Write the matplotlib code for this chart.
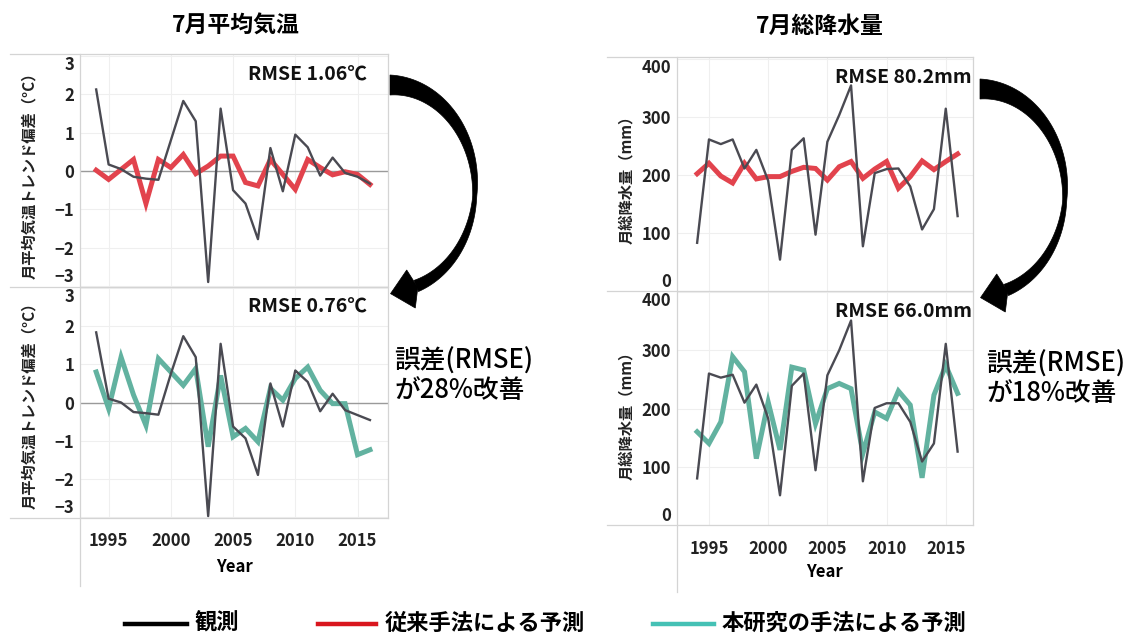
import numpy as np
import matplotlib
matplotlib.use("Agg")
import matplotlib.pyplot as plt
from matplotlib.lines import Line2D
from matplotlib.patches import Polygon

plt.rcParams['font.family'] = ['Noto Sans CJK JP', 'DejaVu Sans']

W, H = 1142, 634

years = list(range(1994, 2017))

# July mean temperature, deviation from trend (degC)
temp_obs_top = [2.13, 0.17, 0.05, -0.15, -0.2, -0.23, 0.8, 1.83, 1.3, -2.9, 1.63, -0.5,
                -0.85, -1.78, 0.6, -0.53, 0.95, 0.62, -0.12, 0.35, -0.05, -0.15, -0.33]
temp_conv = [0.02, -0.22, 0.04, 0.3, -0.85, 0.3, 0.09, 0.43, -0.07, 0.13, 0.39, 0.39,
             -0.3, -0.39, 0.3, -0.09, -0.48, 0.3, 0.09, -0.1, -0.02, -0.09, -0.35]
temp_obs_bottom = [1.84, 0.1, 0.0, -0.25, -0.28, -0.32, 0.75, 1.74, 1.19, -2.98, 1.54, -0.63,
                   -0.94, -1.9, 0.5, -0.63, 0.84, 0.54, -0.23, 0.23, -0.2, -0.33, -0.46]
temp_new = [0.8, -0.16, 1.19, 0.2, -0.6, 1.15, 0.8, 0.45, 0.89, -1.16, 0.71, -0.9,
            -0.68, -1.03, 0.37, 0.06, 0.63, 0.93, 0.32, -0.03, -0.03, -1.37, -1.24]

# July total precipitation (mm)
rain_obs_top = [83, 261, 253, 261, 211, 243, 190, 54, 243, 263, 97, 257,
                303, 354, 77, 203, 210, 211, 180, 106, 141, 314, 129]
rain_conv = [202, 220, 198, 186, 220, 193, 197, 197, 206, 213, 211, 191,
             214, 223, 194, 210, 223, 177, 197, 224, 209, 223, 236]
rain_obs_bottom = [80, 260, 253, 258, 210, 241, 183, 51, 239, 260, 94, 257,
                   300, 351, 75, 201, 209, 209, 177, 109, 140, 311, 126]
rain_new = [160, 140, 177, 289, 263, 114, 211, 129, 271, 266, 174, 234,
            243, 234, 123, 194, 183, 230, 206, 81, 223, 274, 226]

titles = ["7月平均気温", "7月総降水量"]
ylabels = ["月平均気温トレンド偏差（°C）", "月総降水量（mm）"]
rmse_texts = ["RMSE 1.06℃", "RMSE 0.76℃", "RMSE 80.2mm", "RMSE 66.0mm"]
improve_texts = ["誤差(RMSE)\nが28%改善", "誤差(RMSE)\nが18%改善"]
legend_labels = ["観測", "従来手法による予測", "本研究の手法による予測"]
temp_ticks = [-3, -2, -1, 0, 1, 2, 3]
rain_ticks = [0, 100, 200, 300, 400]
year_ticks = [1995, 2000, 2005, 2010, 2015]

OBS_C = '#4a4a52'
CONV_C = '#e2434d'
NEW_C = '#62b2a0'
FRAME_C = '#d4d4d4'


def fx(x):
    return x / W


def fy(y):
    return 1 - y / H


def add_px_axes(fig, left, top, right, bottom):
    return fig.add_axes([fx(left), fy(bottom), (right - left) / W, (bottom - top) / H])


def style_axes(ax, xlim, ylim, yticks, show_x, xpad, zero_line):
    for s in ax.spines.values():
        s.set_visible(False)
    ax.set_xlim(*xlim)
    ax.set_ylim(*ylim)
    ax.set_xticks(year_ticks)
    ax.set_yticks(yticks)
    ax.grid(color='#efefef', lw=0.8)
    ax.set_axisbelow(True)
    ax.tick_params(length=0, labelsize=12, colors='#222222')
    ax.tick_params(axis='y', pad=4)
    ax.tick_params(axis='x', pad=xpad)
    for lab in ax.get_xticklabels() + ax.get_yticklabels():
        lab.set_fontweight('bold')
    if not show_x:
        ax.tick_params(axis='x', labelbottom=False)
    ticks = ax.yaxis.get_major_ticks()
    # keep the end labels inside the pane
    ticks[0].label1.set_va('bottom')
    ticks[-1].label1.set_va('top')
    if zero_line:
        ax.axhline(0, color='#9a9a9a', lw=1, zorder=1)


def arrow_shape(fig, ox, oy):
    cx, cy, rx, ry = 390 + ox, 188 + oy, 85, 103
    deg = np.linspace(0, 162, 80)
    t = np.radians(deg)
    w = np.interp(deg, [0, 40, 95, 162], [20, 13, 4, 12])
    x = cx + rx * np.sin(t)
    y = cy - ry * np.cos(t)
    dx, dy = rx * np.cos(t), ry * np.sin(t)
    nrm = np.hypot(dx, dy)
    nx, ny = -dy / nrm, dx / nrm
    outer = np.column_stack([x - nx * w / 2, y - ny * w / 2])
    inner = np.column_stack([x + nx * w / 2, y + ny * w / 2])
    shaft = np.vstack([outer, inner[::-1]])
    c = np.array([411 + ox, 289 + oy])
    d = np.array([-0.975, 0.22])
    n = np.array([0.22, 0.975])
    head = np.array([c + 21 * d, c - 19.5 * n, c - 7 * d, c + 19.5 * n])
    for pts in (shaft, head):
        fpts = np.column_stack([fx(pts[:, 0]), fy(pts[:, 1])])
        fig.add_artist(Polygon(fpts, closed=True, facecolor='black', edgecolor='black',
                               lw=0.5, transform=fig.transFigure))


def frame_line(fig, x0, y0, x1, y1):
    fig.add_artist(Line2D([fx(x0), fx(x1)], [fy(y0), fy(y1)], color=FRAME_C, lw=0.9,
                          transform=fig.transFigure))


fig = plt.figure(figsize=(W / 100, H / 100), dpi=100)

# left chart: temperature
ax1 = add_px_axes(fig, 80, 55, 388, 287)
ax2 = add_px_axes(fig, 80, 287, 388, 518)
t_xlim = (1992.7, 2017.45)
style_axes(ax1, t_xlim, (-3.03, 3.03), temp_ticks, False, 10, True)
style_axes(ax2, t_xlim, (-3.03, 3.03), temp_ticks, True, 10, True)
ax1.plot(years, temp_conv, color=CONV_C, lw=3.6, zorder=2, solid_joinstyle='miter')
ax1.plot(years, temp_obs_top, color=OBS_C, lw=1.7, zorder=3)
ax2.plot(years, temp_new, color=NEW_C, lw=3.6, zorder=2, solid_joinstyle='miter')
ax2.plot(years, temp_obs_bottom, color=OBS_C, lw=1.7, zorder=3)

# right chart: precipitation
ax3 = add_px_axes(fig, 677, 57, 973, 291)
ax4 = add_px_axes(fig, 677, 292, 973, 525)
r_xlim = (1992.3, 2017.3)
style_axes(ax3, r_xlim, (0, 403), rain_ticks, False, 11, False)
style_axes(ax4, r_xlim, (0, 400), rain_ticks, True, 11, False)
ax3.plot(years, rain_conv, color=CONV_C, lw=3.6, zorder=2, solid_joinstyle='miter')
ax3.plot(years, rain_obs_top, color=OBS_C, lw=1.7, zorder=3)
ax4.plot(years, rain_new, color=NEW_C, lw=3.6, zorder=2, solid_joinstyle='miter')
ax4.plot(years, rain_obs_bottom, color=OBS_C, lw=1.7, zorder=3)

for ax, txt in zip([ax1, ax2, ax3, ax4], rmse_texts):
    ax.text(0.932 if ax in (ax1, ax2) else 0.995, 0.955, txt, transform=ax.transAxes,
            ha='right', va='top', fontsize=14, fontweight='bold', color='#111111')

# frames in the Tableau style
for yy in (54, 287, 518):
    frame_line(fig, 10, yy, 388, yy)
frame_line(fig, 80, 54, 80, 586)
frame_line(fig, 388, 54, 388, 518)
for yy in (57, 291, 525):
    frame_line(fig, 607, yy, 973, yy)
frame_line(fig, 677, 57, 677, 592)
frame_line(fig, 973, 57, 973, 525)

# titles, axis labels
fig.text(fx(236), fy(26), titles[0], ha='center', va='center', fontsize=16.5, fontweight='bold')
fig.text(fx(820), fy(26), titles[1], ha='center', va='center', fontsize=16.5, fontweight='bold')
for yc in (172, 402):
    fig.text(fx(29), fy(yc), ylabels[0], rotation=90, ha='center', va='center',
             fontsize=11, fontweight='bold', color='#222222')
for yc, xc in ((176, 626), (412, 626)):
    fig.text(fx(xc), fy(yc), ylabels[1], rotation=90, ha='center', va='center',
             fontsize=11, fontweight='bold', color='#222222')
fig.text(fx(234), fy(567), "Year", ha='center', va='center', fontsize=12, fontweight='bold')
fig.text(fx(824), fy(572), "Year", ha='center', va='center', fontsize=12, fontweight='bold')

# curved arrows and improvement notes
arrow_shape(fig, 0, 0)
arrow_shape(fig, 590, 4)
fig.text(fx(394), fy(376), improve_texts[0], ha='left', va='center', fontsize=18.5,
         fontweight='medium', linespacing=1.1)
fig.text(fx(986), fy(379), improve_texts[1], ha='left', va='center', fontsize=18.5,
         fontweight='medium', linespacing=1.1)

# legend
leg_items = [(125, 187, 'black', 195), (318, 376, '#d9161e', 385), (653, 714, '#45c1b5', 722)]
for (x0, x1, col, xt), lab in zip(leg_items, legend_labels):
    fig.add_artist(Line2D([fx(x0), fx(x1)], [fy(624), fy(624)], color=col, lw=3.2,
                          transform=fig.transFigure))
    fig.text(fx(xt), fy(623), lab, ha='left', va='center', fontsize=16, fontweight='bold')

fig.savefig("out.png", dpi=100)
